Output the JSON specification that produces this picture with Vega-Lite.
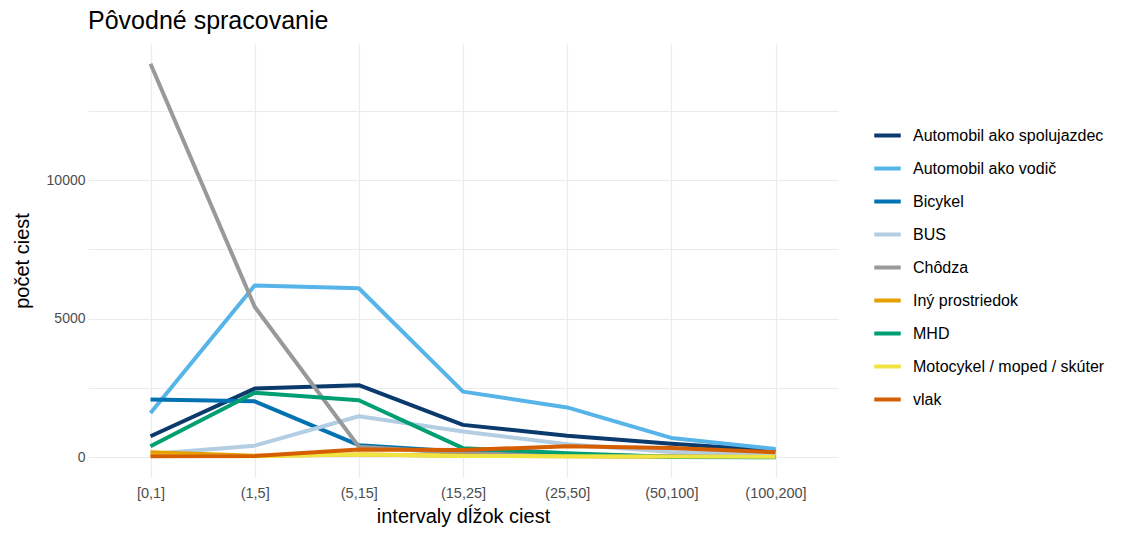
{
  "$schema": "https://vega.github.io/schema/vega-lite/v6.json",
  "autosize": {"type": "none"},
  "padding": {"left": 88, "top": 44, "right": 284, "bottom": 57},
  "width": 750,
  "height": 433,
  "background": "white",
  "config": {
    "font": "Liberation Sans",
    "view": {"stroke": null}
  },
  "title": {
    "text": "Pôvodné spracovanie",
    "anchor": "start",
    "frame": "group",
    "fontSize": 25,
    "fontWeight": "normal",
    "color": "#000000",
    "offset": 10
  },
  "data": {
    "values": [
      {"interval": "[0,1]", "mode": "Automobil ako spolujazdec", "count": 760},
      {"interval": "(1,5]", "mode": "Automobil ako spolujazdec", "count": 2480},
      {"interval": "(5,15]", "mode": "Automobil ako spolujazdec", "count": 2600},
      {"interval": "(15,25]", "mode": "Automobil ako spolujazdec", "count": 1170},
      {"interval": "(25,50]", "mode": "Automobil ako spolujazdec", "count": 780},
      {"interval": "(50,100]", "mode": "Automobil ako spolujazdec", "count": 490},
      {"interval": "(100,200]", "mode": "Automobil ako spolujazdec", "count": 250},
      {"interval": "[0,1]", "mode": "Automobil ako vodič", "count": 1600},
      {"interval": "(1,5]", "mode": "Automobil ako vodič", "count": 6200},
      {"interval": "(5,15]", "mode": "Automobil ako vodič", "count": 6100},
      {"interval": "(15,25]", "mode": "Automobil ako vodič", "count": 2370},
      {"interval": "(25,50]", "mode": "Automobil ako vodič", "count": 1800},
      {"interval": "(50,100]", "mode": "Automobil ako vodič", "count": 700},
      {"interval": "(100,200]", "mode": "Automobil ako vodič", "count": 300},
      {"interval": "[0,1]", "mode": "Bicykel", "count": 2090},
      {"interval": "(1,5]", "mode": "Bicykel", "count": 2020},
      {"interval": "(5,15]", "mode": "Bicykel", "count": 440},
      {"interval": "(15,25]", "mode": "Bicykel", "count": 200},
      {"interval": "(25,50]", "mode": "Bicykel", "count": 80},
      {"interval": "(50,100]", "mode": "Bicykel", "count": 40},
      {"interval": "(100,200]", "mode": "Bicykel", "count": 20},
      {"interval": "[0,1]", "mode": "BUS", "count": 120},
      {"interval": "(1,5]", "mode": "BUS", "count": 420},
      {"interval": "(5,15]", "mode": "BUS", "count": 1480},
      {"interval": "(15,25]", "mode": "BUS", "count": 930},
      {"interval": "(25,50]", "mode": "BUS", "count": 470},
      {"interval": "(50,100]", "mode": "BUS", "count": 190},
      {"interval": "(100,200]", "mode": "BUS", "count": 100},
      {"interval": "[0,1]", "mode": "Chôdza", "count": 14200},
      {"interval": "(1,5]", "mode": "Chôdza", "count": 5430},
      {"interval": "(5,15]", "mode": "Chôdza", "count": 380},
      {"interval": "(15,25]", "mode": "Chôdza", "count": 150},
      {"interval": "(25,50]", "mode": "Chôdza", "count": 60},
      {"interval": "(50,100]", "mode": "Chôdza", "count": 30},
      {"interval": "(100,200]", "mode": "Chôdza", "count": 10},
      {"interval": "[0,1]", "mode": "Iný prostriedok", "count": 180},
      {"interval": "(1,5]", "mode": "Iný prostriedok", "count": 60},
      {"interval": "(5,15]", "mode": "Iný prostriedok", "count": 100},
      {"interval": "(15,25]", "mode": "Iný prostriedok", "count": 60},
      {"interval": "(25,50]", "mode": "Iný prostriedok", "count": 40},
      {"interval": "(50,100]", "mode": "Iný prostriedok", "count": 20},
      {"interval": "(100,200]", "mode": "Iný prostriedok", "count": 10},
      {"interval": "[0,1]", "mode": "MHD", "count": 400},
      {"interval": "(1,5]", "mode": "MHD", "count": 2330},
      {"interval": "(5,15]", "mode": "MHD", "count": 2060},
      {"interval": "(15,25]", "mode": "MHD", "count": 330},
      {"interval": "(25,50]", "mode": "MHD", "count": 150},
      {"interval": "(50,100]", "mode": "MHD", "count": 10},
      {"interval": "(100,200]", "mode": "MHD", "count": 5},
      {"interval": "[0,1]", "mode": "Motocykel / moped / skúter", "count": 60},
      {"interval": "(1,5]", "mode": "Motocykel / moped / skúter", "count": 40},
      {"interval": "(5,15]", "mode": "Motocykel / moped / skúter", "count": 100},
      {"interval": "(15,25]", "mode": "Motocykel / moped / skúter", "count": 50},
      {"interval": "(25,50]", "mode": "Motocykel / moped / skúter", "count": 40},
      {"interval": "(50,100]", "mode": "Motocykel / moped / skúter", "count": 30},
      {"interval": "(100,200]", "mode": "Motocykel / moped / skúter", "count": 20},
      {"interval": "[0,1]", "mode": "vlak", "count": 40},
      {"interval": "(1,5]", "mode": "vlak", "count": 50},
      {"interval": "(5,15]", "mode": "vlak", "count": 280},
      {"interval": "(15,25]", "mode": "vlak", "count": 260},
      {"interval": "(25,50]", "mode": "vlak", "count": 400},
      {"interval": "(50,100]", "mode": "vlak", "count": 340},
      {"interval": "(100,200]", "mode": "vlak", "count": 180}
    ]
  },
  "mark": {"type": "line", "strokeWidth": 4, "strokeCap": "butt", "strokeJoin": "round"},
  "encoding": {
    "x": {
      "field": "interval",
      "type": "ordinal",
      "sort": ["[0,1]", "(1,5]", "(5,15]", "(15,25]", "(25,50]", "(50,100]", "(100,200]"],
      "scale": {"type": "point", "padding": 0.6},
      "axis": {
        "title": "intervaly dĺžok ciest",
        "titleFontSize": 20,
        "titleFontWeight": "normal",
        "titleColor": "#000000",
        "titlePadding": 7,
        "labelFontSize": 14.5,
        "labelColor": "#4D4D4D",
        "labelPadding": 9,
        "labelAngle": 0,
        "ticks": false,
        "domain": false,
        "grid": true,
        "gridColor": "#EBEBEB",
        "gridWidth": 1.2
      }
    },
    "y": {
      "field": "count",
      "type": "quantitative",
      "scale": {"domain": [-710, 14910], "nice": false, "zero": false},
      "axis": {
        "title": "počet ciest",
        "titleFontSize": 20,
        "titleFontWeight": "normal",
        "titleColor": "#000000",
        "titlePadding": 14,
        "values": [0, 2500, 5000, 7500, 10000, 12500],
        "labelExpr": "datum.value % 5000 === 0 ? datum.value : ''",
        "labelFontSize": 14,
        "labelColor": "#4D4D4D",
        "labelPadding": 3,
        "ticks": false,
        "domain": false,
        "grid": true,
        "gridColor": "#EBEBEB",
        "gridWidth": 1.2
      }
    },
    "color": {
      "field": "mode",
      "type": "nominal",
      "scale": {
        "domain": ["Automobil ako spolujazdec", "Automobil ako vodič", "Bicykel", "BUS", "Chôdza", "Iný prostriedok", "MHD", "Motocykel / moped / skúter", "vlak"],
        "range": ["#0B3B6D", "#56B4E9", "#0072B2", "#B3CDE3", "#999999", "#E69F00", "#009E73", "#F0E442", "#D55E00"]
      },
      "legend": {
        "title": null,
        "orient": "none",
        "legendX": 784,
        "legendY": 76,
        "symbolType": "stroke",
        "symbolSize": 700,
        "symbolStrokeWidth": 4,
        "labelFontSize": 16,
        "labelLimit": 0,
        "labelColor": "#000000",
        "labelOffset": 10,
        "rowPadding": 9
      }
    }
  }
}
